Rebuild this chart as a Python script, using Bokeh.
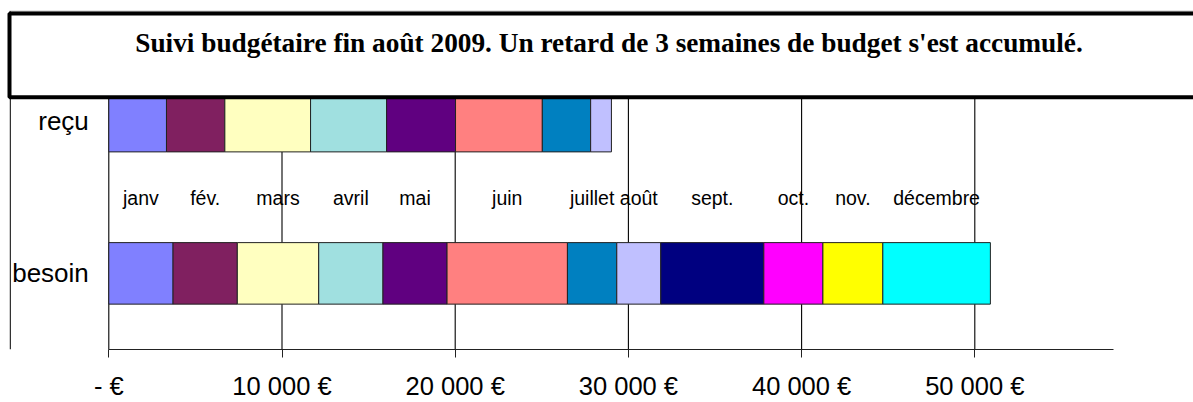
import numpy as np
from bokeh.plotting import figure
from bokeh.models import ColumnDataSource, Range1d, FixedTicker
from bokeh.core.properties import value
from bokeh.embed import file_html
from bokeh.resources import INLINE

# ---------------- data ----------------
title_text = "Suivi budgétaire fin août 2009. Un retard de 3 semaines de budget s'est accumulé."
categories = ["besoin", "reçu"]
months = ["janv", "fév.", "mars", "avril", "mai", "juin", "juillet", "août",
          "sept.", "oct.", "nov.", "décembre"]
month_colors = ["#8080FF", "#802060", "#FFFFC0", "#A0E0E0", "#600080", "#FF8080",
                "#0080C0", "#C0C0FF", "#000080", "#FF00FF", "#FFFF00", "#00FFFF"]
besoin = [3710, 3710, 4700, 3710, 3700, 6950, 2850, 2540, 5950, 3410, 3460, 6210]
recu = [3330, 3370, 4950, 4390, 3980, 5010, 2790, 1200]
tick_values = [0, 10000, 20000, 30000, 40000, 50000]
tick_labels = ["- €", "10 000 €", "20 000 €", "30 000 €", "40 000 €", "50 000 €"]
axis_max = 58000

# ---------------- layout ----------------
W, H = 1193, 402
TOP = 10               # frame top (chart area border)
AXIS_Y = 350           # axis line position (frame bottom)
X0 = 108.3             # px where 0 € sits
PPU = 0.01732          # px per €
SLOT = 152.7           # px per category slot
x_start = -X0 / PPU
x_end = (W - X0) / PPU
y_top = (AXIS_Y - TOP) / SLOT


def xd(px):
    return (px - X0) / PPU


def yd(py):
    return (AXIS_Y - py) / SLOT


p = figure(width=W, height=H, x_range=Range1d(x_start, x_end), y_range=Range1d(0, y_top),
           output_backend="svg", toolbar_location=None, y_axis_location=None,
           min_border=0, min_border_top=TOP, min_border_bottom=H - AXIS_Y,
           outline_line_color=None,
           background_fill_color="white", border_fill_color="white")

# vertical gridlines at the axis ticks (stopping under the title box)
p.xgrid.visible = False
p.ygrid.visible = False
p.segment(x0=tick_values, y0=[0] * len(tick_values), x1=tick_values,
          y1=[yd(95)] * len(tick_values), line_color="#000000", line_width=1.1)

# axis
ax = p.xaxis[0]
ax.ticker = FixedTicker(ticks=tick_values)
ax.major_label_overrides = {v: l for v, l in zip(tick_values, tick_labels)}
ax.bounds = (0, axis_max)
ax.axis_line_color = "#222222"
ax.major_tick_line_color = "#222222"
ax.major_tick_out = 8
ax.major_tick_in = 0
ax.minor_tick_line_color = None
ax.major_label_text_font = "Liberation Sans"
ax.major_label_text_font_size = "25.5px"
ax.major_label_text_color = "black"
ax.major_label_standoff = 14

# bars
rows = {"y": [], "left": [], "right": [], "color": []}
for yc, vals in ((0.5, besoin), (1.5, recu)):
    arr = np.array(vals, dtype=float)
    right = np.cumsum(arr)
    left = right - arr
    rows["y"] += [yc] * len(arr)
    rows["left"] += list(left)
    rows["right"] += list(right)
    rows["color"] += month_colors[:len(arr)]
src = ColumnDataSource(rows)
p.hbar(y="y", left="left", right="right", height=0.404, fill_color="color",
       line_color="#222222", line_width=1, source=src)

# month labels at centres of the "besoin" segments
b = np.array(besoin, dtype=float)
centres = np.cumsum(b) - b / 2
p.text(x=list(centres), y=[1.0] * len(months), text=months,
       text_font=value("Liberation Sans"), text_font_size="19.5px",
       text_align="center", text_baseline="middle", text_color="black", y_offset=1)

# category labels
p.text(x=[0, 0], y=[0.5, 1.5], text=categories, x_offset=-20,
       text_font=value("Liberation Sans"), text_font_size="26px",
       text_align="right", text_baseline="middle", text_color="black")

# chart area border (left black, top grey)
p.segment(x0=[xd(9.8)], y0=[0], x1=[xd(9.8)], y1=[yd(10.5)], line_color="black", line_width=1)
p.segment(x0=[xd(9)], y0=[yd(10.5)], x1=[x_end + 2000], y1=[yd(10.5)], line_color="#999999", line_width=1)

# title box
p.quad(left=[xd(9)], right=[x_end + 3000], top=[yd(13)], bottom=[yd(97)],
       fill_color="white", line_color="black", line_width=4)
p.text(x=[xd(608.5)], y=[yd(42.3)], text=[title_text],
       text_font=value("Liberation Serif"), text_font_style="bold", text_font_size="27.3px",
       text_align="center", text_baseline="alphabetic", text_color="black")

open("out.html", "w", encoding="utf-8").write(file_html(p, INLINE))
